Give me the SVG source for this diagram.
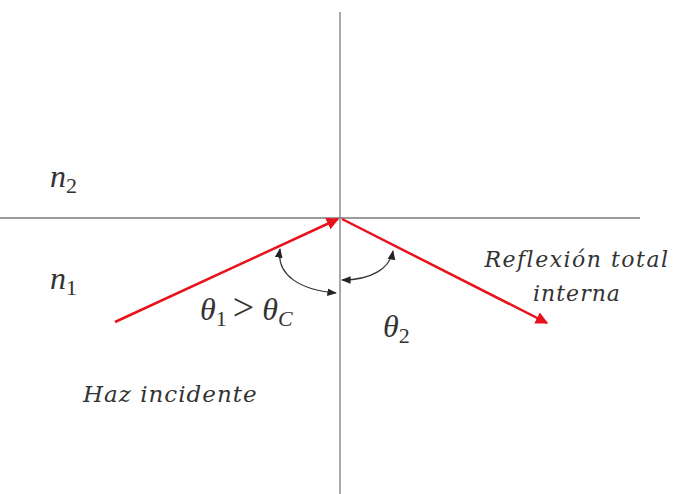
<svg xmlns="http://www.w3.org/2000/svg" width="688" height="494" viewBox="0 0 688 494">
<defs>
<style>
.axis{stroke:#7a7a7a;stroke-width:1.3;fill:none}
.ray{stroke:#e8121c;stroke-width:2.5;fill:none}
.arc{stroke:#333;stroke-width:1.2;fill:none}
.t{font-family:"Liberation Serif",serif;font-style:italic;fill:#333}
.lbl{font-family:"DejaVu Serif","Liberation Serif",serif;font-style:italic;fill:#333}
</style>
<marker id="rh" viewBox="0 0 10 10" refX="9" refY="5" markerWidth="5" markerHeight="5" orient="auto"><path d="M0,0L10,5L0,10z" fill="#e8121c"/></marker>
<marker id="bh" viewBox="0 0 10 10" refX="9" refY="5" markerWidth="8" markerHeight="8" orient="auto-start-reverse"><path d="M0,1L10,5L0,9z" fill="#222"/></marker>
</defs>
<g id="axes">
<line class="axis" x1="340" y1="12" x2="340" y2="494"/>
<line class="axis" x1="0" y1="218" x2="640" y2="218"/>
</g>
<g id="connectors">
<line class="ray" x1="115" y1="322" x2="338" y2="219" marker-end="url(#rh)"/>
<line class="ray" x1="342" y1="219" x2="547" y2="323" marker-end="url(#rh)"/>
<path class="arc" d="M280,249 C276,275 300,290 336,293" marker-start="url(#bh)" marker-end="url(#bh)"/>
<path class="arc" d="M393,251 C390,268 372,280 342,280" marker-start="url(#bh)" marker-end="url(#bh)"/>
</g>
<g id="n2"><text class="t" x="50" y="187" font-size="32">n<tspan font-size="22" dy="6" font-style="normal">2</tspan></text></g>
<g id="n1"><text class="t" x="50" y="289" font-size="32">n<tspan font-size="22" dy="6" font-style="normal">1</tspan></text></g>
<g id="theta1"><text class="t" x="200" y="320" font-size="32">θ<tspan font-size="22" dy="6" font-style="normal">1</tspan><tspan dy="-6" dx="6" font-style="normal" font-size="38">&gt;</tspan><tspan dx="8">θ</tspan><tspan font-size="22" dy="6">C</tspan></text></g>
<g id="theta2"><text class="t" x="383" y="337" font-size="32">θ<tspan font-size="22" dy="6" font-style="normal">2</tspan></text></g>
<g id="haz"><text class="lbl" x="83" y="402" font-size="23" letter-spacing="1">Haz incidente</text></g>
<g id="refl"><text class="lbl" x="577" y="267" font-size="22" text-anchor="middle" letter-spacing="1.5">Reflexión total</text><text class="lbl" x="577" y="301" font-size="22" text-anchor="middle" letter-spacing="1">interna</text></g>
</svg>
